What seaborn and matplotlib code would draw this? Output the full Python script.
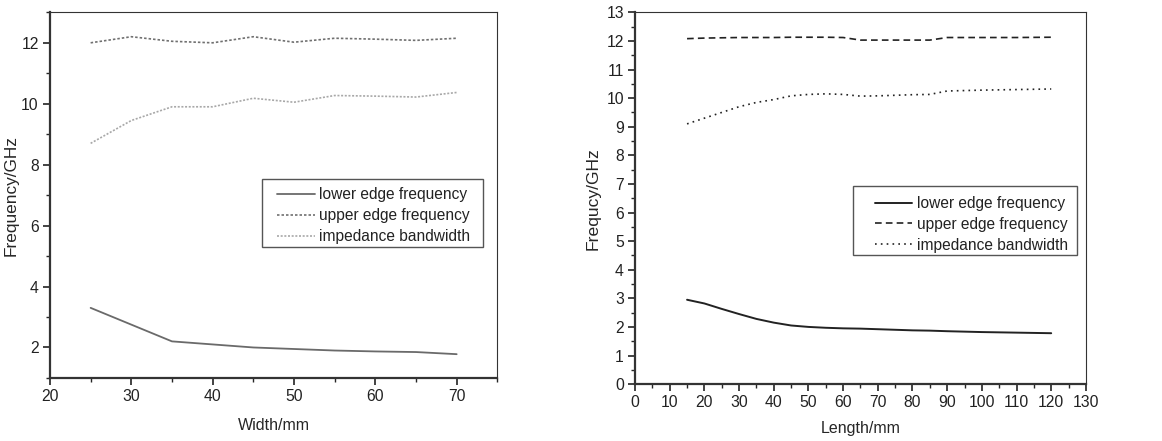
import numpy as np
import pandas as pd
import seaborn as sns
import matplotlib
matplotlib.use('Agg')
import matplotlib.pyplot as plt
from matplotlib.ticker import MultipleLocator
from matplotlib.patches import Rectangle

# left panel: width sweep
width_mm = [25, 30, 35, 40, 45, 50, 55, 60, 65, 70]
width_lower = [3.30, 2.75, 2.20, 2.10, 2.00, 1.95, 1.90, 1.87, 1.85, 1.78]
width_upper = [12.00, 12.20, 12.05, 12.00, 12.20, 12.02, 12.15, 12.12, 12.08, 12.15]
width_band = [8.70, 9.45, 9.90, 9.90, 10.18, 10.05, 10.27, 10.25, 10.22, 10.37]

# right panel: length sweep
length_mm = [15, 20, 25, 30, 35, 40, 45, 50, 55, 60, 65, 70, 80, 85, 90, 100, 110, 120]
length_lower = [2.95, 2.82, 2.63, 2.45, 2.28, 2.15, 2.05, 2.00, 1.97, 1.95, 1.94, 1.92,
                1.88, 1.87, 1.85, 1.82, 1.80, 1.78]
length_upper = [12.08, 12.10, 12.11, 12.12, 12.12, 12.12, 12.13, 12.13, 12.13, 12.12, 12.03,
                12.03, 12.03, 12.03, 12.12, 12.12, 12.12, 12.13]
length_band = [9.10, 9.30, 9.50, 9.70, 9.85, 9.95, 10.08, 10.13, 10.15, 10.13, 10.07, 10.08,
               10.12, 10.13, 10.25, 10.28, 10.30, 10.32]

labels = ['lower edge frequency', 'upper edge frequency', 'impedance bandwidth']

sns.set_style('ticks')
plt.rcParams['font.family'] = ['Liberation Sans', 'DejaVu Sans']
plt.rcParams['xtick.direction'] = 'out'
plt.rcParams['ytick.direction'] = 'out'

fig = plt.figure(figsize=(11.62, 4.41), dpi=100)
ax1 = fig.add_axes([0.043, 0.143, 0.385, 0.829])
ax2 = fig.add_axes([0.5465, 0.129, 0.388, 0.843])

# legend entries without frame; frame drawn as a box so the padding matches
leg_kw = dict(loc='upper left', fontsize=11.2, frameon=False, handlelength=2.4,
              handletextpad=0.3, borderpad=0, labelspacing=0.38, borderaxespad=0)

# left
df1 = pd.DataFrame({'x': width_mm, 'lower': width_lower, 'upper': width_upper, 'band': width_band})
sns.lineplot(data=df1, x='x', y='lower', ax=ax1, color='#6a6a6a', lw=1.3, label=labels[0])
sns.lineplot(data=df1, x='x', y='upper', ax=ax1, color='#707070', lw=1.2,
             linestyle=(0, (1.5, 1.2)), label=labels[1])
sns.lineplot(data=df1, x='x', y='band', ax=ax1, color='#a8a8a8', lw=1.2,
             linestyle=(0, (1.2, 1.0)), label=labels[2])
ax1.set_xlim(20, 75)
ax1.set_ylim(1, 13)
ax1.xaxis.set_minor_locator(MultipleLocator(5))
ax1.yaxis.set_minor_locator(MultipleLocator(1))
ax1.set_xticks([20, 30, 40, 50, 60, 70])
ax1.set_yticks([2, 4, 6, 8, 10, 12])
ax1.set_xlabel('Width/mm', fontsize=11.5, labelpad=10)
ax1.set_ylabel('Frequency/GHz', fontsize=12.4, labelpad=2)
ax1.legend(bbox_to_anchor=(0.508, 0.521), **leg_kw)
ax1.add_patch(Rectangle((0.474, 0.358), 0.495, 0.186, transform=ax1.transAxes,
                        fill=False, edgecolor='#555555', lw=1.0, zorder=5))

# right
df2 = pd.DataFrame({'x': length_mm, 'lower': length_lower, 'upper': length_upper, 'band': length_band})
sns.lineplot(data=df2, x='x', y='lower', ax=ax2, color='#222222', lw=1.4, label=labels[0])
sns.lineplot(data=df2, x='x', y='upper', ax=ax2, color='#222222', lw=1.2,
             linestyle=(0, (4, 2.5)), label=labels[1])
sns.lineplot(data=df2, x='x', y='band', ax=ax2, color='#222222', lw=1.2,
             linestyle=(0, (1, 2.5)), label=labels[2])
ax2.set_xlim(0, 130)
ax2.set_ylim(0, 13)
ax2.xaxis.set_major_locator(MultipleLocator(10))
ax2.xaxis.set_minor_locator(MultipleLocator(5))
ax2.yaxis.set_major_locator(MultipleLocator(1))
ax2.yaxis.set_minor_locator(MultipleLocator(0.5))
ax2.set_xlabel('Length/mm', fontsize=11.5, labelpad=8)
ax2.set_ylabel('Frequcy/GHz', fontsize=12.6, labelpad=4)
ax2.legend(bbox_to_anchor=(0.532, 0.506), **leg_kw)
ax2.add_patch(Rectangle((0.483, 0.347), 0.497, 0.185, transform=ax2.transAxes,
                        fill=False, edgecolor='#555555', lw=1.0, zorder=5))

for ax in (ax1, ax2):
    for s in ax.spines.values():
        s.set_visible(True)
        s.set_color('#333333')
    ax.spines['left'].set_linewidth(1.6)
    ax.spines['bottom'].set_linewidth(1.6)
    ax.spines['top'].set_linewidth(0.8)
    ax.spines['right'].set_linewidth(0.8)
    ax.tick_params(which='major', length=5, width=1.2, pad=3, labelsize=11.3, colors='#222222')
    ax.tick_params(which='minor', length=3, width=1.0)
    for t in ax.get_legend().get_texts():
        t.set_color('#222222')

fig.savefig('out.png', dpi=100, facecolor='white')
